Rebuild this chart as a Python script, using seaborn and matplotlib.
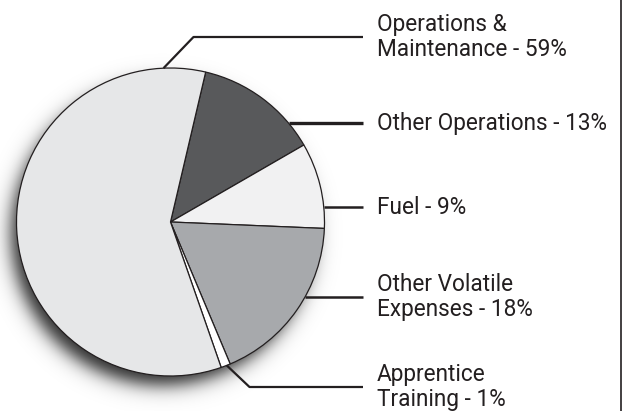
import numpy as np
import matplotlib
matplotlib.use("Agg")
import matplotlib.pyplot as plt
import seaborn as sns

# ── Data ───────────────────────────────────────────────────────────────────────

categories = ["Other Operations", "Fuel", "Other Volatile Expenses",
              "Apprentice Training", "Operations & Maintenance"]
shares = [13, 9, 18, 1, 59]
labels = ["Other Operations - 13%", "Fuel - 9%", "Other Volatile\nExpenses - 18%",
          "Apprentice\nTraining - 1%", "Operations &\nMaintenance - 59%"]
colors = ["#58595b", "#f1f1f2", "#a7a9ac", "#ffffff", "#e6e7e8"]

# ── Style ──────────────────────────────────────────────────────────────────────

sns.set_theme(style="white")
plt.rcParams["font.family"] = ["Roboto", "DejaVu Sans"]

W, H = 623, 411
CX, CY, R = 170.5, H - 222, 154
TEXT_X = 377
LINE_END = 363
INK = "#231f20"

fig = plt.figure(figsize=(W / 100, H / 100), dpi=100)
ax = fig.add_axes([0, 0, 1, 1])

# soft drop shadow (down-left of the pie)
xx, yy = np.meshgrid(np.arange(W) + 0.5, np.arange(H) + 0.5)
d = np.hypot(xx - (CX - 8), yy - (CY - 12))
alpha = 0.85 * 0.5 * (1 - np.tanh((d - R + 3) / 11))
rgba = np.zeros((H, W, 4))
rgba[..., 3] = alpha
ax.imshow(rgba, extent=(0, W, 0, H), origin="lower", zorder=0, interpolation="bilinear")

ax.pie(shares, colors=colors, startangle=90 - 13.2, counterclock=False,
       center=(CX, CY), radius=R,
       wedgeprops=dict(edgecolor=INK, linewidth=0.9), frame=True)

ax.set_xlim(0, W)
ax.set_ylim(0, H)
ax.set_aspect("equal")
ax.axis("off")


def on_circle(deg):
    a = np.radians(deg)
    return CX + R * np.sin(a), CY + R * np.cos(a)


# leader lines: anchor angle (clockwise from top), optional elbow, label y
leaders = [
    (50.5, None, 123, 2.4),
    (84.4, None, 207, 1.8),
    (118.9, None, 297, 1.8),
    (158.6, (249.5, 387), 387, 1.6),
    (-2.6, (193.5, 37), 37, 1.6),
]

for (deg, elbow, ly, lw), text in zip(leaders, labels):
    x0, y0 = on_circle(deg)
    yl = H - ly
    if elbow is None:
        xs, ys = [x0, LINE_END], [yl, yl]
    else:
        xs, ys = [x0, elbow[0], LINE_END], [y0, H - elbow[1], yl]
    ax.plot(xs, ys, color=INK, lw=lw, solid_capstyle="butt", zorder=3)
    ax.text(TEXT_X, yl, text, ha="left", va="center", fontsize=16.3,
            color=INK, linespacing=1.15)

# right-hand frame rule
ax.plot([W - 2, W - 2], [0, H], color=INK, lw=1.2)

fig.savefig("out.png", dpi=100)
